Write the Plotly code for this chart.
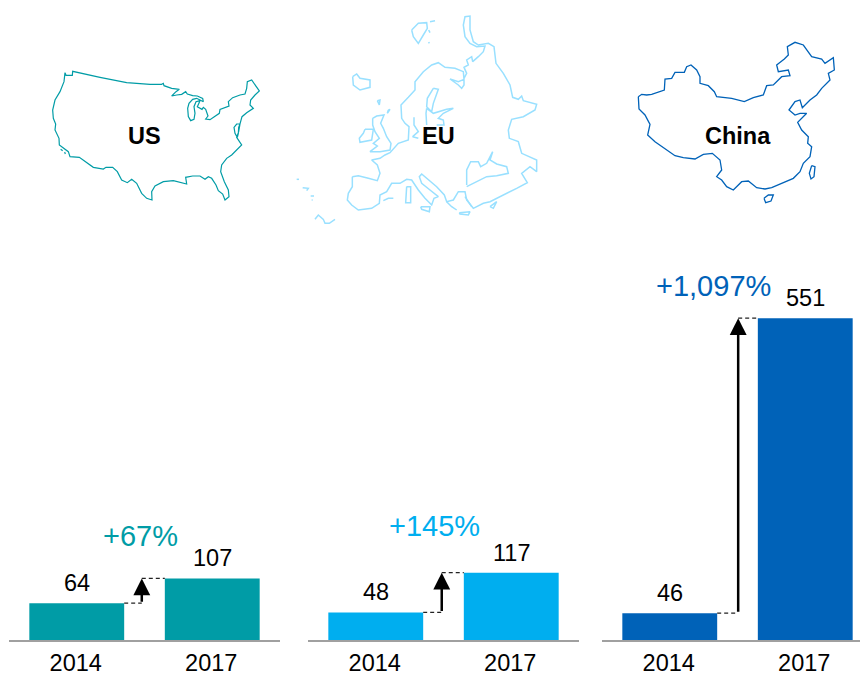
import plotly.graph_objects as go

REGIONS = ["US", "EU", "China"]
YEARS = ["2014", "2017"]
VALUES = [[64, 107], [48, 117], [46, 551]]
CHANGES = ["+67%", "+145%", "+1,097%"]
BAR_COLORS = ["#009CA6", "#00AEEF", "#0062B8"]
MAP_COLORS = ["#009CA6", "#99E0FF", "#0062B8"]

US_OUTLINE = [[(75,68),(78,76),(97,76),(98,64),(180,82),(260,98),(330,103),(365,103),(370,100),(372,107),(395,115),(418,118),(408,125),(395,138),(410,135),(425,133),(437,125),(442,132),(458,137),(472,138),(488,145),(490,155),(480,150),(470,145),(458,148),(447,160),(443,175),(445,200),(452,212),(462,208),(465,190),(462,170),(468,155),(480,152),(472,170),(486,178),(490,172),(497,178),(504,198),(497,207),(510,209),(525,200),(538,190),(540,178),(560,172),(567,168),(565,155),(578,143),(600,135),(615,132),(620,115),(622,95),(635,90),(645,105),(658,123),(645,135),(632,150),(630,165),(640,175),(620,188),(606,200),(600,222),(590,222),(582,232),(585,250),(592,262),(595,250),(596,232),(600,222),(596,245),(590,262),(605,285),(590,300),(575,315),(560,325),(545,345),(542,365),(553,395),(565,420),(567,440),(555,450),(548,432),(535,422),(528,405),(515,385),(505,380),(495,388),(480,378),(458,378),(437,382),(440,402),(420,398),(400,392),(370,395),(345,408),(335,425),(336,450),(320,445),(305,430),(290,400),(275,388),(262,398),(245,390),(232,365),(218,352),(198,352),(190,357),(160,352),(118,322),(90,320),(85,305),(58,285),(57,265),(45,240),(47,222),(40,205),(38,180),(45,150),(60,125),(72,95),(75,68)],
 [(62,298),(68,302)],[(74,306),(76,312)]]

EU_OUTLINE = [[(187,500),(205,497),(235,505),(262,512),(270,490),(262,465),(245,450),(270,445),(285,435),(300,428),(325,400),(355,390),(357,350),(345,340),(335,325),(333,285),(355,262),(375,240),(375,215),(400,185),(425,165),(445,158),(465,172),(495,175),(520,185),(522,208),(505,215),(480,207),(505,225),(515,235),(522,225),(522,205),(530,190),(522,172),(535,165),(530,150),(545,140),(548,155),(565,140),(580,125),(585,108),(560,110),(540,100),(525,80),(520,45),(525,20),(540,18),(540,60),(550,95),(565,105),(595,100),(612,110),(618,160),(640,190),(660,225),(668,262),(685,268),(695,258),(700,272),(740,283),(735,300),(700,320),(665,328),(655,360),(658,385),(685,395),(695,430),(740,450),(740,485),(720,470),(695,490),(712,518),(680,535),(640,555),(600,575),(580,580),(550,595),(530,570),(525,545),(505,545),(490,570),(470,575),(463,555),(440,530),(410,505),(395,492),(388,500),(395,520),(420,540),(445,560),(432,565),(425,585),(405,565),(385,540),(365,510),(350,508),(330,520),(305,520),(290,545),(270,555),(268,580),(245,595),(205,600),(185,585),(172,570),(175,550),(187,530),(187,500)],
 [(530,525),(530,480),(542,455),(565,455),(572,470),(590,460),(608,425),(600,450),(620,462),(650,470),(655,490),(620,497),(590,500),(560,515),(530,530)],
 [(392,590),(420,590),(418,605),(395,598),(392,590)],
 [(350,530),(362,530),(362,578),(347,578),(350,530)],
 [(280,572),(295,565),(310,565)],
 [(508,608),(540,605),(535,615),(510,612),(508,608)],
 [(600,590),(620,575),(610,595),(600,590)],
 [(248,325),(260,318),(282,315),(272,340),(280,355),(290,380),(303,400),(300,420),(270,425),(240,425),(262,408),(250,400),(268,385),(255,365),(248,345),(248,325)],
 [(225,358),(250,358),(245,390),(210,397),(208,385),(220,370),(225,358)],
 [(188,200),(200,192),(210,205),(240,210),(240,232),(210,240),(190,225),(188,200)],
 [(365,60),(385,40),(410,38),(412,55),(400,75),(385,100),(370,80),(365,60)],
 [(430,235),(445,238),(430,280),(425,305),(410,290),(412,265),(430,235)],
 [(410,295),(430,310),(470,298),(490,295),(460,310),(445,325),(460,330),(462,345),(440,345)],
 [(410,345),(408,310),(410,295)],
 [(372,322),(372,345),(385,365),(368,380),(385,385)],
 [(262,272),(270,270),(268,285),(262,272)],
 [(295,300),(300,298),(292,310),(295,300)],
 [(20,508),(27,508)],[(38,533),(55,535),(50,542)],[(62,558),(72,558)],[(65,570),(68,570)],
 [(75,628),(85,615),(100,628),(105,640),(118,640),(135,628)],
 [(470,575),(485,590),(500,600)],[(525,560),(535,575),(545,590)],[(420,35),(435,32)],[(416,60),(420,68)],[(416,96),(418,100)]]

CHINA_OUTLINE = [[(40,185),(50,178),(65,180),(80,178),(118,165),(120,132),(140,130),(150,112),(178,112),(185,95),(198,90),(215,105),(225,125),(225,145),(250,152),(268,170),(275,185),(320,190),(358,200),(385,188),(415,180),(425,152),(445,150),(470,125),(495,122),(490,105),(460,110),(455,90),(478,72),(490,60),(487,35),(510,22),(535,30),(560,65),(590,72),(600,85),(625,68),(628,105),(610,115),(615,135),(590,160),(575,180),(555,195),(532,218),(525,195),(510,200),(492,225),(510,240),(525,235),(545,235),(518,262),(530,285),(550,305),(548,325),(560,335),(555,365),(535,385),(525,410),(505,430),(470,445),(440,458),(420,462),(395,458),(370,438),(350,440),(325,465),(305,455),(290,435),(275,425),(290,405),(285,375),(262,355),(235,358),(210,372),(175,368),(150,362),(125,345),(90,320),(68,300),(75,268),(60,240),(42,222),(40,185)],
 [(417,490),(430,480),(445,480),(438,498),(422,503),(417,490)],
 [(560,392),(570,395),(567,425),(558,432),(553,415),(560,392)]]

W, H = 860, 675
BASE = 640
PANELS = [(9, 280), (308, 579), (602, 860)]
PX_PER_UNIT = [0.575, 0.575, 0.584]
ARROW_X = [0.48, 0.487, 0.505]
CHANGE_POS = [(0.474, 42), (0.437, 47), (0.32, 32)]
FONT = "Liberation Sans, Arial, sans-serif"
PLOT_H = 360
MAP_WIDTHS = [1.2, 1.5, 1.3]

fig = go.Figure()
layout = dict(width=W, height=H, margin=dict(l=0, r=0, t=0, b=0), autosize=False,
              paper_bgcolor="white", plot_bgcolor="rgba(0,0,0,0)", showlegend=False,
              font=dict(family=FONT, color="black"), bargap=0.3)
ann, shapes = [], []
for i, (vals, (x0, x1)) in enumerate(zip(VALUES, PANELS)):
    n = i + 1
    xa, ya = f"x{n}", f"y{n}"
    fig.add_trace(go.Bar(x=[0, 1], y=vals, width=0.7, marker=dict(color=BAR_COLORS[i], line_width=0),
                         xaxis=xa, yaxis=ya, hoverinfo="skip"))
    layout[f"xaxis{n}"] = dict(domain=[x0 / W, x1 / W], range=[-0.5, -0.5 + (x1 - x0) / 135.5],
                               tickvals=[0, 1], ticktext=YEARS, tickfont=dict(size=23.5, color="black"),
                               showgrid=False, zeroline=False, showline=True, linecolor="#A0A0A0",
                               linewidth=2, ticks="", ticklabelstandoff=1, ticklabelshift=-1, anchor=ya)
    layout[f"yaxis{n}"] = dict(domain=[(H - BASE) / H, (H - BASE + PLOT_H) / H],
                               range=[0, PLOT_H / PX_PER_UNIT[i]], visible=False, anchor=xa)
    for j, v in enumerate(vals):
        ann.append(dict(x=j, y=v, xref=xa, yref=ya, text=str(v), showarrow=False, yshift=20,
                        xanchor="center", yanchor="middle", font=dict(size=23.5, color="black")))
    ax = ARROW_X[i]
    ann.append(dict(x=ax, y=vals[1], ax=ax, ay=vals[0], xref=xa, yref=ya, axref=xa, ayref=ya, text="",
                    showarrow=True, arrowhead=2, arrowsize=1.35, arrowwidth=2.5, arrowcolor="black", standoff=0))
    for (a, b, v) in [(0.35, ax, vals[0]), (ax, 0.65, vals[1])]:
        shapes.append(dict(type="line", xref=xa, yref=ya, x0=a, x1=b, y0=v, y1=v,
                           line=dict(color="#222222", width=1.2, dash="4px,3px")))
    cx, shift = CHANGE_POS[i]
    ann.append(dict(x=cx, y=vals[1], xref=xa, yref=ya, text=CHANGES[i], showarrow=False, yshift=shift,
                    xanchor="center", yanchor="middle", font=dict(size=29, color=BAR_COLORS[i])))

MAPS = [(US_OUTLINE, 40, 50, 240, 170), (EU_OUTLINE, 290, 10, 260, 225), (CHINA_OUTLINE, 625, 35, 225, 175)]
for i, (outline, mx, my, mw, mh) in enumerate(MAPS):
    n = i + 4
    xs, ys = [], []
    for part in outline:
        xs += [p[0] for p in part] + [None]
        ys += [p[1] for p in part] + [None]
    fig.add_trace(go.Scatter(x=xs, y=ys, mode="lines", line=dict(color=MAP_COLORS[i], width=MAP_WIDTHS[i]),
                             xaxis=f"x{n}", yaxis=f"y{n}", hoverinfo="skip", connectgaps=False))
    layout[f"xaxis{n}"] = dict(domain=[mx / W, (mx + mw) / W], range=[0, mw * 3], visible=False, anchor=f"y{n}")
    layout[f"yaxis{n}"] = dict(domain=[(H - my - mh) / H, (H - my) / H], range=[mh * 3, 0], visible=False, anchor=f"x{n}")

for name, px in zip(REGIONS, [144, 438, 738]):
    ann.append(dict(x=px / W, y=(H - 136) / H, xref="paper", yref="paper", text=f"<b>{name}</b>", showarrow=False,
                    xanchor="center", yanchor="middle", font=dict(size=23.5, color="black")))

layout["annotations"] = ann
layout["shapes"] = shapes
fig.update_layout(**layout)
fig.write_html("out.html", config=dict(displayModeBar=False, responsive=False),
               default_width="860px", default_height="675px",
               post_script="document.body.style.margin='0';document.body.style.overflow='hidden';")
